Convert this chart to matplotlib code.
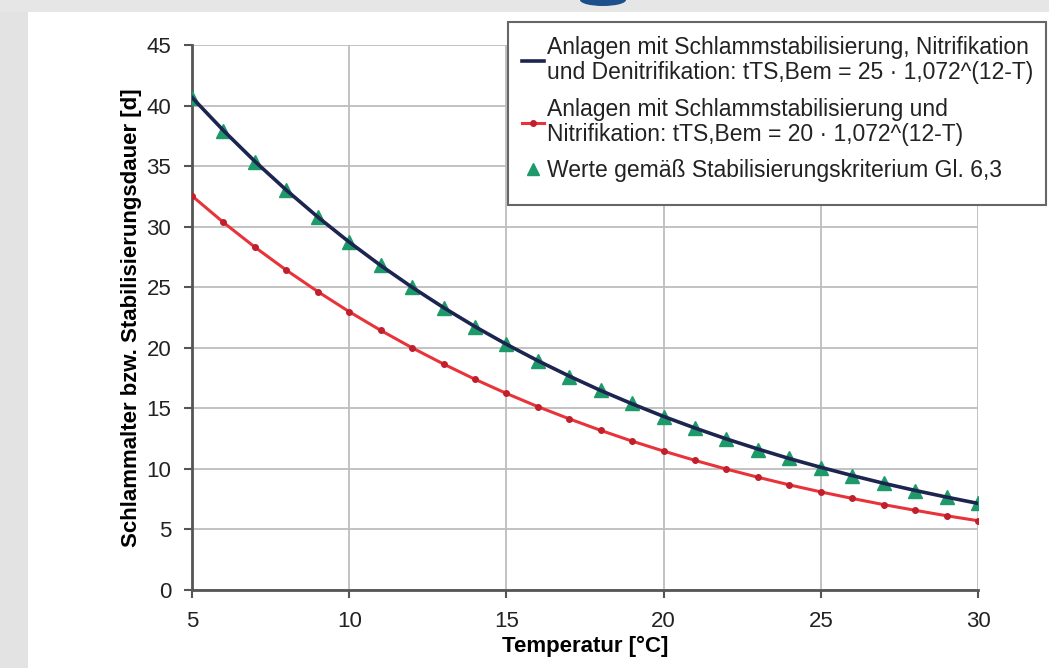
import matplotlib.pyplot as plt
from matplotlib.lines import Line2D
from matplotlib.patches import Rectangle, Ellipse

plt.rcParams["font.family"] = ["Liberation Sans", "DejaVu Sans"]

# values
temperature = list(range(5, 31))
t_bem_deni = [40.67, 37.94, 35.39, 33.02, 30.80, 28.73, 26.80, 25.00, 23.32,
              21.75, 20.29, 18.93, 17.66, 16.47, 15.37, 14.33, 13.37, 12.47,
              11.64, 10.85, 10.13, 9.45, 8.81, 8.22, 7.67, 7.15]
t_bem_nitri = [32.54, 30.35, 28.31, 26.41, 24.64, 22.98, 21.44, 20.00, 18.66,
               17.40, 16.23, 15.14, 14.13, 13.18, 12.29, 11.47, 10.70, 9.98,
               9.31, 8.68, 8.10, 7.56, 7.05, 6.58, 6.13, 5.72]
criterion = [40.6, 37.9, 35.3, 33.0, 30.8, 28.7, 26.8, 25.0, 23.3,
             21.7, 20.3, 18.9, 17.6, 16.5, 15.4, 14.3, 13.4, 12.5,
             11.6, 10.9, 10.1, 9.4, 8.8, 8.2, 7.7, 7.2]

x_ticks = [5, 10, 15, 20, 25, 30]
y_ticks = [0, 5, 10, 15, 20, 25, 30, 35, 40, 45]

labels = [
    "Anlagen mit Schlammstabilisierung, Nitrifikation\n"
    "und Denitrifikation: tTS,Bem = 25 \u00b7 1,072^(12-T)",
    "Anlagen mit Schlammstabilisierung und\n"
    "Nitrifikation: tTS,Bem = 20 \u00b7 1,072^(12-T)",
    "Werte gem\u00e4\u00df Stabilisierungskriterium Gl. 6,3",
]

W, H = 1049, 668
fig = plt.figure(figsize=(W / 100, H / 100), dpi=100)
fig.patch.set_facecolor("white")

# grey page border of the screenshot
fig.patches.append(Rectangle((0, 0), 28 / W, 1, transform=fig.transFigure,
                             facecolor="#e3e3e3", edgecolor="none", zorder=0))
fig.patches.append(Rectangle((0, 1 - 12 / H), 1, 12 / H, transform=fig.transFigure,
                             facecolor="#e6e6e6", edgecolor="none", zorder=0))
fig.patches.append(Ellipse((603 / W, 1.0), 46 / W, 12 / H, transform=fig.transFigure,
                           facecolor="#1d4f8a", edgecolor="none", zorder=1))

ax = fig.add_axes([192 / W, 1 - 590 / H, (978 - 192) / W, (590 - 45) / H])

ax.plot(temperature, criterion, linestyle="none", marker="^", markersize=9.5,
        color="#1e9a6a", zorder=3)
ax.plot(temperature, t_bem_deni, color="#1c2550", linewidth=2.6, zorder=4)
ax.plot(temperature, t_bem_nitri, color="#e8333a", linewidth=2.2, marker="o",
        markersize=4, markerfacecolor="#c0202c", markeredgecolor="#c0202c", zorder=4)

ax.set_xlim(5, 30)
ax.set_ylim(0, 45)
ax.set_xticks(x_ticks)
ax.set_yticks(y_ticks)
ax.grid(True, color="#bdbdbd", linewidth=1.3)
ax.set_axisbelow(True)
for side in ("top", "right"):
    ax.spines[side].set_visible(False)
for side in ("left", "bottom"):
    ax.spines[side].set_color("#555555")
    ax.spines[side].set_linewidth(2.0)
ax.tick_params(direction="out", length=6, width=1.5, color="#555555",
               labelsize=16, labelcolor="#222222", pad=9)

ax.set_xlabel("Temperatur [\u00b0C]", fontsize=16, fontweight="bold", labelpad=3)
ax.set_ylabel("Schlammalter bzw. Stabilisierungsdauer [d]", fontsize=16,
              fontweight="bold", labelpad=3)

# legend box sticks out past the axes, so frame is drawn by hand
fig.patches.append(Rectangle((508 / W, 1 - 205 / H), (1046 - 508) / W, (205 - 22) / H,
                             transform=fig.transFigure, facecolor="white",
                             edgecolor="#666666", linewidth=1.5, zorder=5))
handles = [
    Line2D([], [], color="#1c2550", linewidth=2.6),
    Line2D([], [], color="#e8333a", linewidth=2.2, marker="o", markersize=4,
           markerfacecolor="#c0202c", markeredgecolor="#c0202c"),
    Line2D([], [], linestyle="none", marker="^", markersize=8, color="#1e9a6a"),
]
leg = fig.legend(handles, labels, loc="upper left",
                 bbox_to_anchor=(513 / W, 1 - 27 / H), frameon=False,
                 fontsize=16.5, handlelength=0.95, handletextpad=0.12,
                 labelspacing=0.6, borderaxespad=0)
leg.set_zorder(6)
for t in leg.get_texts():
    t.set_linespacing(1.1)
    t.set_color("#222222")

fig.savefig("out.png", dpi=100)
